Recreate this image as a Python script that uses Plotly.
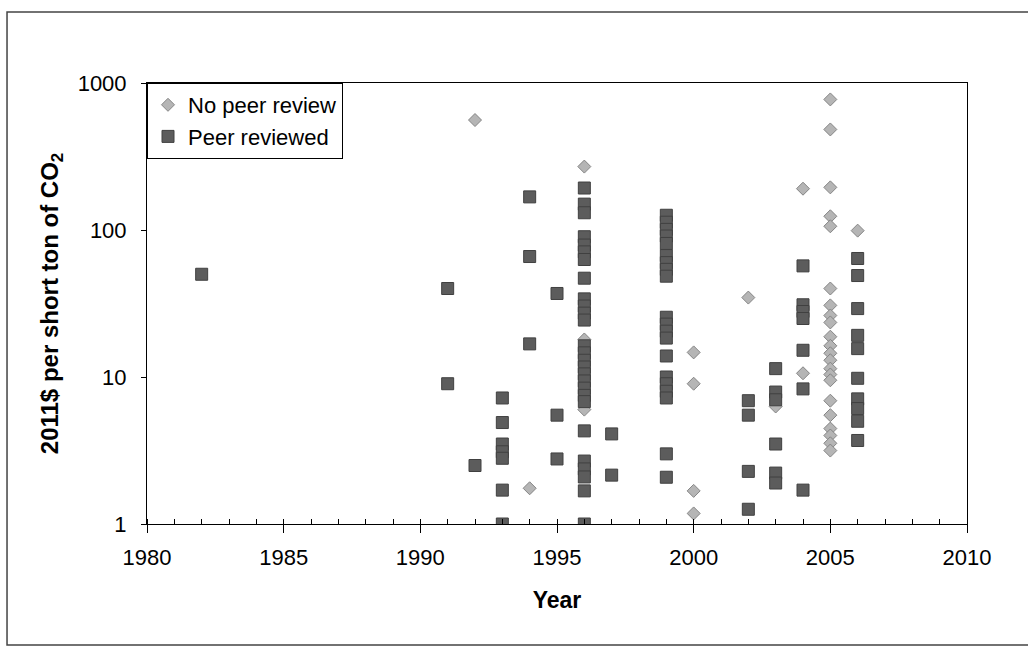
import plotly.graph_objects as go

# ---- data ----
no_peer_years = [1992, 1994, 1996, 1996, 1996,
                 2000, 2000, 2000, 2000,
                 2002, 2003, 2004, 2004,
                 2005, 2005, 2005, 2005, 2005, 2005, 2005, 2005, 2005, 2005, 2005,
                 2005, 2005, 2005, 2005, 2005, 2005, 2005, 2005, 2005, 2005, 2005,
                 2006]
no_peer_values = [560, 1.75, 270, 18, 6.0,
                  14.7, 9.0, 1.68, 1.18,
                  34.7, 6.3, 191, 10.6,
                  773, 483, 195, 124, 106, 40, 30.7, 26.2, 23.5, 18.8, 16.3,
                  14.5, 13.0, 11.4, 10.4, 9.5, 6.9, 5.5, 4.46, 4.0, 3.54, 3.16,
                  99]

peer_years = ([1982] + [1991] * 2 + [1992] + [1993] * 7 + [1994] * 3 + [1995] * 3
              + [1996] * 27 + [1997] * 2 + [1999] * 20 + [2002] * 4 + [2003] * 6
              + [2004] * 7 + [2006] * 10)
peer_values = ([50]
               + [40, 9.0]
               + [2.5]
               + [7.2, 4.9, 3.5, 3.1, 2.8, 1.7, 1.0]
               + [168, 66, 16.8]
               + [37, 5.5, 2.77]
               + [193, 150, 131, 90, 79, 71, 63, 47, 34, 30.4, 27.2, 24.4, 16.3, 14.6,
                  13.0, 11.7, 10.5, 9.4, 8.4, 7.5, 6.8, 4.3, 2.68, 2.37, 2.09, 1.68, 1.0]
               + [4.1, 2.15]
               + [126, 113, 101, 91, 81, 67, 60, 54, 48.5, 25.5, 22.9, 20.5, 18.4, 13.9,
                  10.0, 9.0, 8.0, 7.2, 3.0, 2.08]
               + [6.9, 5.5, 2.28, 1.26]
               + [11.4, 7.9, 7.0, 3.5, 2.22, 1.9]
               + [57, 31, 27.9, 25, 15.2, 8.3, 1.7]
               + [64, 49, 29.2, 19.2, 15.6, 9.8, 7.1, 6.1, 5.0, 3.7])

x_tick_vals = [1980, 1985, 1990, 1995, 2000, 2005, 2010]
y_tick_vals = [1, 10, 100, 1000]
y_tick_text = ["1", "10", "100", "1000"]

FONT = "Liberation Sans, Arial, sans-serif"

fig = go.Figure()
fig.add_trace(go.Scatter(
    x=no_peer_years, y=no_peer_values, mode="markers", name="No peer review",
    marker=dict(symbol="diamond", size=10, color="#b5b5b5",
                line=dict(color="#858585", width=1)),
))
fig.add_trace(go.Scatter(
    x=peer_years, y=peer_values, mode="markers", name="Peer reviewed",
    marker=dict(symbol="square", size=12, color="#5c5c5c",
                line=dict(color="#404040", width=1)),
))

fig.update_layout(
    width=1028, height=648,
    margin=dict(l=147, r=61, t=83, b=124),
    paper_bgcolor="white", plot_bgcolor="white",
    font=dict(family=FONT, size=22, color="black"),
    showlegend=True,
    legend=dict(x=0, y=1, xanchor="left", yanchor="top",
                bgcolor="white", bordercolor="black", borderwidth=1,
                font=dict(family=FONT, size=22, color="black"),
                itemsizing="trace", tracegroupgap=6),
    xaxis=dict(range=[1980, 2010], tickvals=x_tick_vals,
               showline=True, linecolor="black", linewidth=1, mirror=True,
               ticks="outside", ticklen=8, tickcolor="black",
               minor=dict(dtick=1, ticks="inside", ticklen=5, tickcolor="black"),
               showgrid=False, zeroline=False,
               tickfont=dict(family=FONT, size=22),
               ticklabelstandoff=6,
               title=dict(text="<b>Year</b>", font=dict(family=FONT, size=23),
                          standoff=22)),
    yaxis=dict(type="log", range=[0, 3], tickvals=y_tick_vals, ticktext=y_tick_text,
               showline=True, linecolor="black", linewidth=1, mirror=True,
               ticks="outside", ticklen=5, tickcolor="black",
               showgrid=False, zeroline=False,
               tickfont=dict(family=FONT, size=22),
               ticklabelstandoff=10,
               title=dict(text="<b>2011$ per short ton of CO<sub>2</sub></b>",
                          font=dict(family=FONT, size=24), standoff=12)),
    shapes=[dict(type="rect", xref="paper", yref="paper",
                 x0=-0.1707, x1=1.0768, y0=-0.2744, y1=1.161,
                 line=dict(color="#444444", width=1.5), layer="below")],
)

fig.write_html("out.html")
